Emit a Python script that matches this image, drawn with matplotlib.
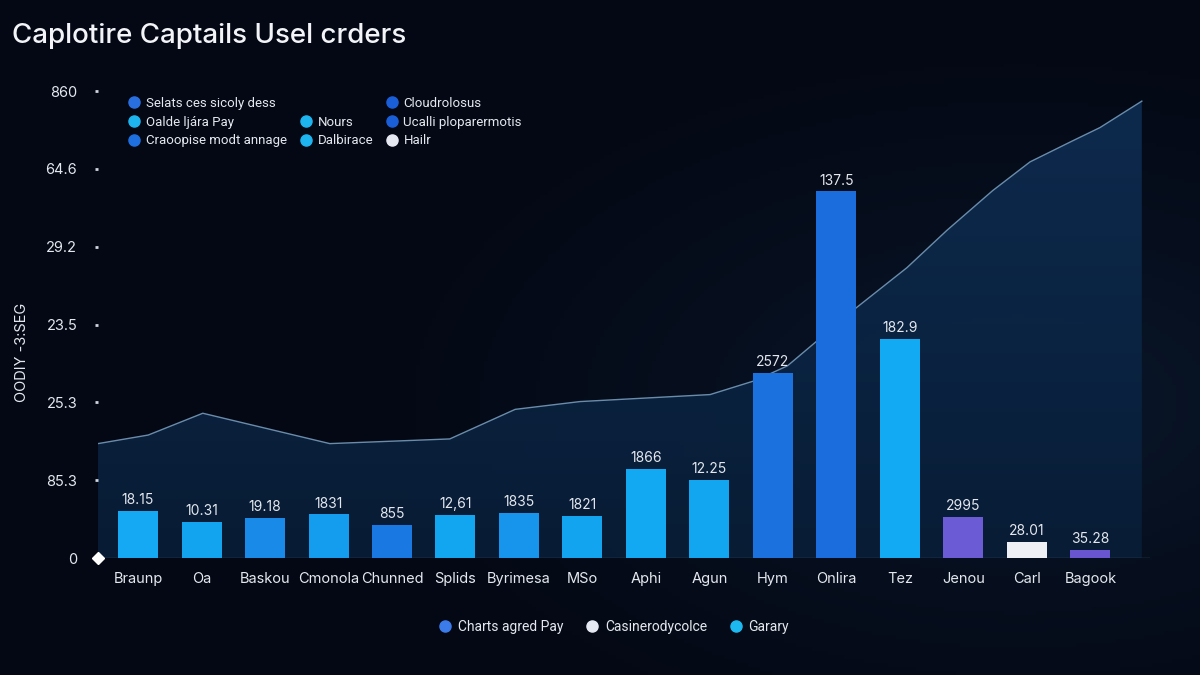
import numpy as np
import matplotlib
matplotlib.use("Agg")
import matplotlib.pyplot as plt
from matplotlib.lines import Line2D

plt.rcParams['font.family'] = ['Inter', 'DejaVu Sans']

# ---- data ----
title = "Caplotire Captails Usel crders"
ylabel = "OODIY -3:SEG"
categories = ["Braunp", "Oa", "Baskou", "Cmonola", "Chunned", "Splids", "Byrimesa", "MSo",
              "Aphi", "Agun", "Hym", "Onlira", "Tez", "Jenou", "Carl", "Bagook"]
values = [61, 46, 52, 56, 42, 55, 58, 54, 115, 100, 238, 471, 282, 53, 21, 10]
bar_labels = ["18.15", "10.31", "19.18", "1831", "855", "12,61", "1835", "1821",
              "1866", "12.25", "2572", "137.5", "182.9", "2995", "28.01", "35.28"]
bar_colors = ["#14a9f2", "#13a4ef", "#1a8ae8", "#149dee", "#1a78e2", "#13a6f0", "#1794ec", "#13a4ef",
              "#12a9f2", "#12a6f0", "#1b72de", "#1b6cdd", "#12aaf2", "#6b5cd6", "#eef0f6", "#6a55d0"]

ytick_vals = [0, 100, 200, 300, 400, 500, 600]
ytick_labels = ["0", "85.3", "25.3", "23.5", "29.2", "64.6", "860"]

# trend line (x in bar-index units)
line_x = [-0.63, 0.16, 1.02, 3.02, 4.91, 5.94, 6.96, 9.01, 9.72, 10.23, 11.32, 12.11,
          12.74, 13.46, 14.05, 14.72, 15.15, 15.81]
line_y = [147, 158, 186, 147, 153, 191, 201, 210, 228, 247, 322, 373,
          421, 472, 509, 536, 553, 587]

top_legend = [("Selats ces sicoly dess", "#2a6fe0"), ("Oalde ljára Pay", "#1eb4f0"),
              ("Craoopise modt annage", "#1e70e0"), ("", None), ("Nours", "#1eb4f0"),
              ("Dalbirace", "#1eb4f0"), ("Cloudrolosus", "#1a5fd8"),
              ("Ucalli ploparermotis", "#1a5fd8"), ("Hailr", "#e6e8f2")]
bottom_legend = [("Charts agred Pay", "#3b7bea"), ("Casinerodycolce", "#e6e8f2"),
                 ("Garary", "#1eb8f0")]

BG = "#040814"
TXT = "#e4e8ee"
LEGFONT = ['Roboto', 'DejaVu Sans']

fig = plt.figure(figsize=(12, 6.75), dpi=100, facecolor=BG)

# background glow
bg = fig.add_axes([0, 0, 1, 1], zorder=-10)
gx, gy = np.meshgrid(np.linspace(0, 1, 300), np.linspace(0, 1, 170))
d = np.sqrt(((gx - 0.85) / 0.6) ** 2 + ((gy - 0.6) / 0.6) ** 2)
w = np.clip(1 - d, 0, 1) ** 1.5
base = np.array([4, 8, 20]) / 255
glow = np.array([10, 24, 44]) / 255
img = base + w[..., None] * (glow - base)
bg.imshow(img, extent=[0, 1, 0, 1], aspect='auto', origin='upper')
bg.axis('off')

ax = fig.add_axes([0.0817, 0.1733, 0.8767, 0.708])
ax.set_facecolor('none')
xmin, xmax = -0.63, 15.94
ax.set_xlim(xmin, xmax)
ax.set_ylim(0, 614)

x = np.arange(len(categories))

# area under the line with vertical gradient
poly = ax.fill_between(line_x, line_y, 0, color='none', lw=0)
grad = np.linspace(0, 1, 256).reshape(-1, 1)
top_c = np.array([14, 46, 84]) / 255
bot_c = np.array([9, 30, 56]) / 255
gimg = bot_c + grad[..., None] * (top_c - bot_c)
gimg = np.repeat(gimg, 2, axis=1)
im = ax.imshow(gimg, extent=[xmin, xmax, 0, 600], aspect='auto', origin='lower', zorder=1, alpha=0.9)
im.set_clip_path(poly.get_paths()[0], transform=ax.transData)
ax.plot(line_x, line_y, color="#6a8cab", lw=1.0, zorder=2)

ax.bar(x, values, width=0.63, color=bar_colors, zorder=3)
for xi, v, lab in zip(x, values, bar_labels):
    ax.text(xi, v + 5, lab, ha='center', va='bottom', color=TXT, fontsize=10, zorder=4)

ax.axhline(0, color="#3a4a62", lw=1, zorder=2)
ax.plot([xmin], [0], marker='D', color='white', ms=6, clip_on=False, zorder=5)

for s in ax.spines.values():
    s.set_visible(False)
ax.set_xticks(x)
ax.set_xticklabels(categories, color=TXT, fontsize=10.5)
ax.tick_params(axis='x', length=0, pad=10)
ax.set_yticks(ytick_vals)
ax.set_yticklabels(ytick_labels, color=TXT, fontsize=10.5)
ax.tick_params(axis='y', length=2, width=2, color="#cfd6e0", pad=13)
ax.set_ylabel(ylabel, color=TXT, fontsize=10.5)
ax.yaxis.set_label_coords(-0.066, 0.43)

fig.text(0.01, 1 - 36 / 675, title, color="#f2f4f8", fontsize=20, fontweight='medium', va='center')

handles = []
labels = []
for lab, c in top_legend:
    if c is None:
        handles.append(Line2D([], [], linestyle='none', marker=None))
    else:
        handles.append(Line2D([], [], linestyle='none', marker='o', ms=8, color=c))
    labels.append(lab)
leg = ax.legend(handles, labels, ncol=3, loc='upper left', bbox_to_anchor=(0.102, 1 - 90 / 675),
                bbox_transform=fig.transFigure, frameon=False, labelcolor=TXT,
                prop={'family': LEGFONT, 'size': 9.5},
                handlelength=0.8, handletextpad=0.5, columnspacing=1.0, labelspacing=0.45,
                borderpad=0)

bh = [Line2D([], [], linestyle='none', marker='o', ms=8, color=c) for _, c in bottom_legend]
fig.legend(bh, [l for l, _ in bottom_legend], ncol=3, loc='center', bbox_to_anchor=(0.512, 1 - 627 / 675),
           frameon=False, prop={'family': LEGFONT, 'size': 10}, labelcolor=TXT,
           handlelength=0.8, handletextpad=0.5, columnspacing=1.7)

fig.savefig("out.png", dpi=100, facecolor=BG)
